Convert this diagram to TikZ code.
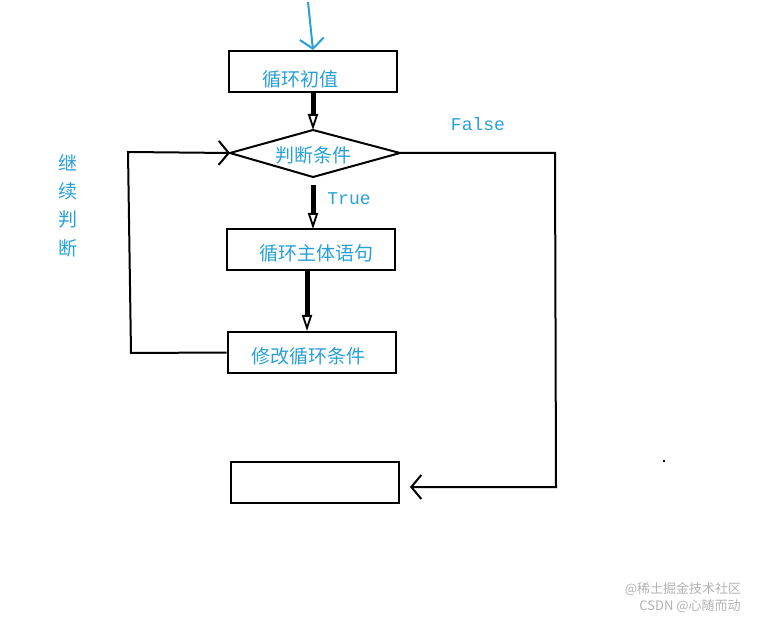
\documentclass[tikz,border=0pt]{standalone}
\usepackage{fontspec}
\setmonofont{Liberation Mono}
\newfontfamily\cjk{Noto Sans CJK SC}
\usetikzlibrary{arrows.meta}
\definecolor{lblue}{RGB}{40,160,215}
\begin{document}
\begin{tikzpicture}[x=1pt,y=-1pt,line width=2pt,
  box/.style={draw,rectangle,minimum width=168pt,minimum height=41pt,inner sep=0pt},
  txt/.style={text=lblue,font=\cjk\fontsize{19}{20}\selectfont},
  eng/.style={text=lblue,font=\ttfamily\fontsize{18}{20}\selectfont},
  hollow/.style={line width=5pt,-{Triangle[open,length=16pt,width=10pt,line width=1.8pt]}},
  vee/.style={-{Straight Barb[length=10pt,width=24pt,line width=2pt]}}]
\useasboundingbox (0,0) rectangle (774,620);
\node[box] (b1) at (313,71.5) {};
\node[txt] at (300,79) {循环初值};
\coordinate (dt) at (313,130); \coordinate (dl) at (230,153);
\coordinate (dr) at (400,153); \coordinate (db) at (313,177);
\draw (dl) -- (dt) -- (dr) -- (db) -- cycle;
\node[txt] (d) at (313,155) {判断条件};
\node[box] (b2) at (310.5,250) {};
\node[txt] at (316,253) {循环主体语句};
\node[box] (b3) at (311.5,352.5) {};
\node[txt] at (308,356) {修改循环条件};
\node[box] (b4) at (314.5,482) {};
\coordinate (s) at (308,2);
\draw[lblue,vee] (s) -- (b1.north);
\draw[hollow] (b1.south) -- (dt);
\coordinate (t0) at (313,185);
\draw[hollow] (t0) -- (313,229);
\node[eng] at (349,199) {True};
\coordinate (b2s) at (307,270);
\draw[hollow] (b2s) -- (307,331);
\coordinate (l1) at (131,353); \coordinate (l2) at (128,152);
\draw[vee] (b3.west) -- (l1) -- (l2) -- (dl);
\coordinate (r1) at (555,153); \coordinate (r2) at (556,487); \coordinate (r3) at (410,487);
\draw[vee] (dr) -- (r1) -- (r2) -- (r3);
\node[eng] at (478,124) {False};
\foreach \c/\y in {继/163,续/191,判/219,断/248} \node[txt] at (68,\y) {\c};
\fill (664,461) circle (1.3pt);
\node[text=gray!60,font=\cjk\fontsize{13}{13}\selectfont] at (683,589) {@稀土掘金技术社区};
\node[text=gray!60,font=\cjk\fontsize{13}{13}\selectfont] at (690,606) {CSDN @心随而动};
\end{tikzpicture}
\end{document}
